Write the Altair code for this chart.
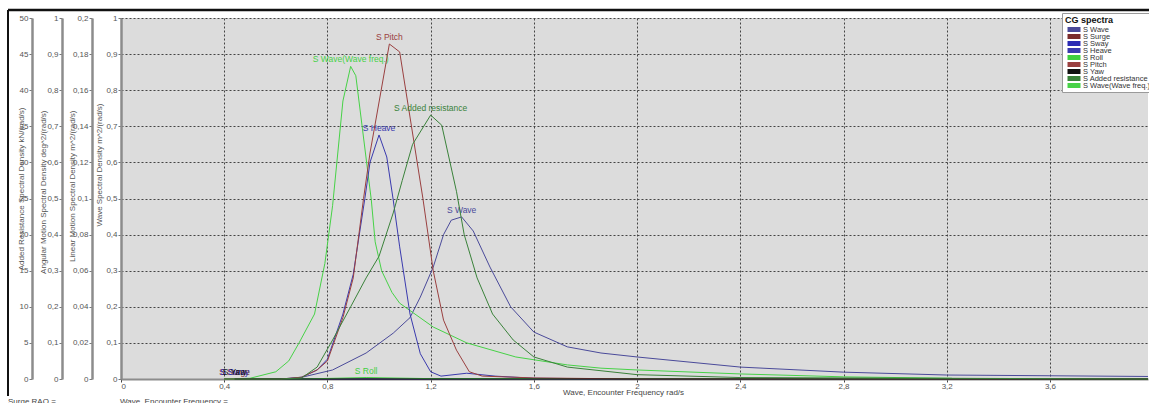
import altair as alt
import pandas as pd

# ---------------- data ----------------
series_names = ["S Wave", "S Surge", "S Sway", "S Heave", "S Roll", "S Pitch",
                "S Yaw", "S Added resistance", "S Wave(Wave freq.)"]
series_colors = ["#4a4a9a", "#7a2c2c", "#2a2ab4", "#3a3aae", "#3fcf3f", "#9a4040",
                 "#111111", "#3a823a", "#47d247"]

# wave spectra  (m^2/(rad/s))
wave_f = [0.40, 0.62, 0.69, 0.82, 0.95, 1.055, 1.12, 1.16, 1.21, 1.25, 1.28, 1.32, 1.365,
          1.43, 1.51, 1.60, 1.73, 1.86, 2.0, 2.4, 2.8, 3.2, 3.6, 3.98]
wave_s = [0.0, 0.0, 0.003, 0.025, 0.072, 0.127, 0.17, 0.227, 0.31, 0.40, 0.44, 0.449, 0.41,
          0.31, 0.20, 0.13, 0.089, 0.072, 0.061, 0.033, 0.019, 0.011, 0.009, 0.007]
wavefreq_f = [0.40, 0.50, 0.60, 0.65, 0.69, 0.75, 0.79, 0.82, 0.86, 0.89, 0.91, 0.97, 0.985,
              1.01, 1.05, 1.08, 1.21, 1.34, 1.53, 1.73, 1.86, 2.0, 2.4, 2.8, 3.22]
wavefreq_s = [0.0, 0.002, 0.02, 0.05, 0.10, 0.18, 0.32, 0.48, 0.77, 0.866, 0.84, 0.496, 0.38,
              0.30, 0.24, 0.21, 0.144, 0.10, 0.061, 0.039, 0.03, 0.025, 0.014, 0.006, 0.002]

# linear motion spectra  (m^2/(rad/s))
heave_f = [0.40, 0.62, 0.70, 0.76, 0.80, 0.86, 0.90, 0.945, 0.965, 1.00, 1.03, 1.055, 1.08,
           1.12, 1.16, 1.20, 1.24, 1.34, 1.45, 1.60, 2.0, 3.98]
heave_s = [0.0, 0.0, 0.001, 0.005, 0.011, 0.036, 0.058, 0.100, 0.120, 0.1352, 0.123, 0.0992,
           0.0732, 0.036, 0.014, 0.004, 0.0016, 0.0032, 0.0016, 0.0004, 0.0, 0.0]
surge_f = [0.44, 3.98]
surge_s = [0.0, 0.0]
sway_f = [0.44, 3.98]
sway_s = [0.0, 0.0]

# angular motion spectra  (deg^2/(rad/s))
pitch_f = [0.40, 0.62, 0.70, 0.76, 0.80, 0.86, 0.90, 0.94, 0.965, 1.04, 1.08, 1.17, 1.21,
           1.25, 1.30, 1.35, 1.40, 1.60, 2.0, 3.98]
pitch_s = [0.0, 0.0, 0.005, 0.025, 0.05, 0.17, 0.28, 0.50, 0.626, 0.928, 0.906, 0.50, 0.30,
           0.163, 0.08, 0.02, 0.008, 0.003, 0.0, 0.0]
roll_f = [0.40, 0.70, 0.95, 1.20, 3.98]
roll_s = [0.0, 0.0, 0.004, 0.001, 0.0]
yaw_f = [0.44, 3.98]
yaw_s = [0.0, 0.0]

# added resistance spectrum  (kN/(rad/s))
added_f = [0.40, 0.62, 0.70, 0.76, 0.82, 0.89, 0.95, 1.00, 1.055, 1.09, 1.13, 1.20, 1.243,
           1.30, 1.33, 1.38, 1.44, 1.52, 1.60, 1.73, 2.0, 2.4, 3.98]
added_s = [0.0, 0.0, 0.15, 1.65, 5.4, 10.0, 14.0, 17.0, 23.0, 27.5, 32.5, 36.55, 35.15,
           26.0, 20.0, 14.0, 9.0, 5.4, 3.05, 1.65, 0.6, 0.2, 0.0]

# axis ticks
x_ticks = [0, 0.4, 0.8, 1.2, 1.6, 2, 2.4, 2.8, 3.2, 3.6]
wave_ticks = [round(i * 0.1, 1) for i in range(11)]
linear_ticks = [round(i * 0.02, 2) for i in range(11)]
angular_ticks = [round(i * 0.1, 1) for i in range(11)]
added_ticks = [i * 5 for i in range(11)]

bottom_texts = ["Surge RAO =", "Wave, Encounter Frequency ="]

# ---------------- build chart ----------------
FONT = "Liberation Sans"
comma = "replace(datum.label, '.', ',')"
color_of = dict(zip(series_names, series_colors))


def long_df(pairs):
    rows = []
    for name, f, s in pairs:
        for a, b in zip(f, s):
            rows.append({"series": name, "freq": a, "val": b})
    return pd.DataFrame(rows)


def label_df(pairs):
    rows = []
    for name, f, s in pairs:
        i = max(range(len(s)), key=lambda k: s[k])
        rows.append({"series": name, "freq": f[i], "val": s[i], "clr": color_of[name]})
    return pd.DataFrame(rows)


x_axis = alt.Axis(values=x_ticks, title="Wave, Encounter Frequency  rad/s", grid=True,
                  gridDash=[2, 2], gridColor="#444444", gridWidth=1, format="~g",
                  labelExpr=comma,
                  domainColor="#8c8c8c", domainWidth=2, tickColor="#444444", tickSize=3,
                  labelPadding=0, labelFontSize=8, labelColor="#555555",
                  titleFontSize=8, titleColor="#444444", titleFontWeight="normal",
                  titleX=502, titleY=13, titleBaseline="middle")
x_enc = alt.X("freq:Q", scale=alt.Scale(domain=[0, 3.98], nice=False, zero=True), axis=x_axis)

color_enc = alt.Color(
    "series:N",
    scale=alt.Scale(domain=series_names, range=series_colors),
    legend=alt.Legend(title="CG spectra", orient="none", legendX=941, legendY=-5,
                      fillColor="white", strokeColor="#9a9a9a", padding=3,
                      titleFontSize=9, titleFontWeight="bold", titleColor="#111111",
                      titlePadding=1, labelFontSize=7.5, labelColor="#333333",
                      symbolType="M-2.6,0L2.6,0", symbolStrokeWidth=5, symbolSize=25,
                      symbolOffset=4, rowPadding=-1.5, labelOffset=4, labelLimit=200,
                      clipHeight=7),
)


def make_axis(title, ticks, offset, tx, ty, grid):
    return alt.Axis(title=title, values=ticks, orient="left", offset=offset, grid=grid,
                    gridDash=[2, 2], gridColor="#444444", gridWidth=1, format="~g",
                    labelExpr=comma,
                    domainColor="#8c8c8c", domainWidth=2.5, tickColor="#777777",
                    tickSize=3, labelPadding=1, labelFontSize=8, labelColor="#555555",
                    titleFontSize=8, titleColor="#555555", titleFontWeight="normal",
                    titleAngle=270, titleAlign="right", titleBaseline="middle",
                    titleX=tx, titleY=ty)


def group(pairs, domain, axis):
    y_enc = alt.Y("val:Q", scale=alt.Scale(domain=domain, nice=False, zero=True), axis=axis)
    lines = alt.Chart(long_df(pairs)).mark_line(strokeWidth=1).encode(
        x=x_enc, y=y_enc, color=color_enc, detail="series:N")
    labels = alt.Chart(label_df(pairs)).mark_text(
        fontSize=8.5, baseline="bottom", dy=-2, align="center").encode(
        x=x_enc, y=y_enc, color=alt.Color("clr:N", scale=None), text="series:N")
    return alt.layer(lines, labels)


g_wave = group([("S Wave", wave_f, wave_s), ("S Wave(Wave freq.)", wavefreq_f, wavefreq_s)],
               [0, 1], make_axis("Wave Spectral Density  m^2/(rad/s)", wave_ticks, 0, -22, 85, True))
g_lin = group([("S Surge", surge_f, surge_s), ("S Sway", sway_f, sway_s),
               ("S Heave", heave_f, heave_s)],
              [0, 0.2], make_axis("Linear Motion Spectral Density  m^2/(rad/s)", linear_ticks,
                                  29, -20, 92, False))
g_ang = group([("S Roll", roll_f, roll_s), ("S Pitch", pitch_f, pitch_s), ("S Yaw", yaw_f, yaw_s)],
              [0, 1], make_axis("Angular Motion Spectral Density  deg^2/(rad/s)", angular_ticks,
                                59, -19, 92, False))
g_add = group([("S Added resistance", added_f, added_s)],
              [0, 50], make_axis("Added Resistance Spectral Density  kN/(rad/s)", added_ticks,
                                 89, -11, 89, False))

# decorative frame and footer texts
frame_top = alt.Chart(pd.DataFrame({"k": [0]})).mark_rule(color="#111111", strokeWidth=2.5).encode(
    x=alt.value(-113), x2=alt.value(1030), y=alt.value(-8))
frame_left = alt.Chart(pd.DataFrame({"k": [0]})).mark_rule(color="#111111", strokeWidth=2).encode(
    x=alt.value(-113), y=alt.value(-8), y2=alt.value(378))
foot1 = alt.Chart(pd.DataFrame({"t": [bottom_texts[0]]})).mark_text(
    align="left", baseline="top", fontSize=8, color="#444444").encode(
    x=alt.value(-113), y=alt.value(380), text="t:N")
foot2 = alt.Chart(pd.DataFrame({"t": [bottom_texts[1]]})).mark_text(
    align="left", baseline="top", fontSize=8, color="#444444").encode(
    x=alt.value(-1), y=alt.value(380), text="t:N")

chart = alt.layer(g_wave, g_lin, g_ang, g_add, frame_top, frame_left, foot1, foot2).resolve_scale(
    y="independent"
).properties(
    width=1027, height=361,
    autosize=alt.AutoSizeParams(type="none"),
    padding={"left": 121, "top": 18, "right": 1, "bottom": 24},
    background="white",
).configure(font=FONT).configure_view(fill="#dcdcdc", strokeWidth=0)

chart.save("out.html", embed_options={"renderer": "svg", "actions": False})
